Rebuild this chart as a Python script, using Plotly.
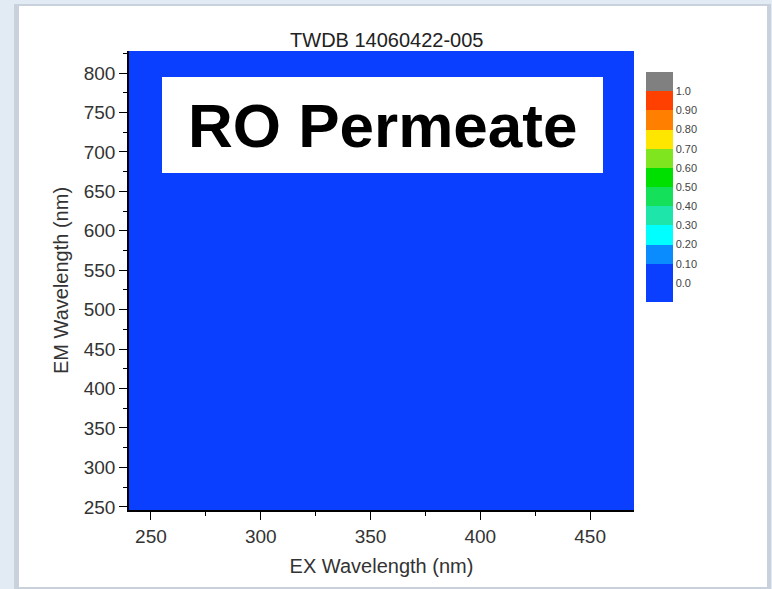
import plotly.graph_objects as go

# ---- data ----
ex_nm = [240, 280, 320, 360, 400, 440, 470]          # excitation wavelengths
em_nm = [246, 300, 400, 500, 600, 700, 800, 828]      # emission wavelengths
intensity = [
    [0.0, 0.0, 0.0, 0.0, 0.0, 0.0, 0.0],
    [0.0, 0.0, 0.0, 0.0, 0.0, 0.0, 0.0],
    [0.0, 0.0, 0.0, 0.0, 0.0, 0.0, 0.0],
    [0.0, 0.0, 0.0, 0.0, 0.0, 0.0, 0.0],
    [0.0, 0.0, 0.0, 0.0, 0.0, 0.0, 0.0],
    [0.0, 0.0, 0.0, 0.0, 0.0, 0.0, 0.0],
    [0.0, 0.0, 0.0, 0.0, 0.0, 0.0, 0.0],
    [0.0, 0.0, 0.0, 0.0, 0.0, 0.0, 0.0],
]
level_vals = [0.0, 0.1, 0.2, 0.3, 0.4, 0.5, 0.6, 0.7, 0.8, 0.9, 1.0]
level_text = ["0.0", "0.10", "0.20", "0.30", "0.40", "0.50", "0.60", "0.70", "0.80", "0.90", "1.0"]
x_ticks = [250, 300, 350, 400, 450]
y_ticks = [250, 300, 350, 400, 450, 500, 550, 600, 650, 700, 750, 800]

# ---- discrete colour levels (zmin -0.1 .. zmax 1.1) ----
band_colors = ["#0a3fff", "#0a3fff", "#0a8cff", "#00ffff", "#1ee6aa", "#14e05a",
               "#00e000", "#7fe51e", "#ffe600", "#ff8000", "#ff4000", "#808080"]
zmin, zmax = -0.1, 1.1
n = len(band_colors)
colorscale = []
for i, c in enumerate(band_colors):
    colorscale.append([i / n, c])
    colorscale.append([(i + 1) / n, c])

FONT = "Liberation Sans, Arial, sans-serif"

fig = go.Figure(go.Heatmap(
    x=ex_nm, y=em_nm, z=intensity,
    zmin=zmin, zmax=zmax, colorscale=colorscale,
    colorbar=dict(
        tickvals=level_vals, ticktext=level_text,
        ticks="", outlinewidth=0, thickness=27,
        lenmode="pixels", len=230,
        x=(646 - 129) / 505, xanchor="left", xpad=0,
        y=(510 - 72) / 459, yanchor="top", ypad=0,
        tickfont=dict(family=FONT, size=11, color="#444444"),
    ),
    showscale=True,
))

W, H = 772, 589
L, R, T, B = 129, W - 634, 51, H - 510

def px(x):
    return (x - L) / (W - L - R)

def py(y):
    return (H - B - y) / (H - T - B)

shapes = [
    dict(type="rect", xref="paper", yref="paper", layer="below",
         x0=px(14), x1=px(771), y0=py(589), y1=py(4),
         fillcolor="#c8d1dc", line=dict(width=0)),
    dict(type="rect", xref="paper", yref="paper", layer="below",
         x0=px(19), x1=px(767), y0=py(587), y1=py(6),
         fillcolor="white", line=dict(width=0)),
    dict(type="rect", xref="paper", yref="paper", layer="above",
         x0=px(162), x1=px(603), y0=py(173), y1=py(77),
         fillcolor="white", line=dict(width=0)),
]

fig.update_layout(
    width=W, height=H,
    margin=dict(l=L, r=R, t=T, b=B, autoexpand=False),
    paper_bgcolor="#e2eaf4", plot_bgcolor="white",
    shapes=shapes,
    title=dict(text="TWDB 14060422-005", x=px(382), xanchor="center",
               y=1 - 40 / H, yanchor="middle",
               font=dict(family=FONT, size=20, color="#222222")),
    annotations=[dict(text="<b>RO Permeate</b>", xref="paper", yref="paper",
                      x=px(382), y=py(126), showarrow=False,
                      xanchor="center", yanchor="middle",
                      font=dict(family=FONT, size=62, color="black"))],
    font=dict(family=FONT, color="#222222"),
)

fig.update_xaxes(
    range=[240, 470], tickvals=x_ticks, ticks="outside", ticklen=8, tickwidth=1,
    tickcolor="black", showline=True, linecolor="black", linewidth=1.5,
    showgrid=False, zeroline=False,
    minor=dict(dtick=25, tick0=225, ticks="outside", ticklen=4, tickcolor="black", showgrid=False),
    tickfont=dict(family=FONT, size=19, color="#333333"),
    title=dict(text="EX Wavelength (nm)", standoff=13,
               font=dict(family=FONT, size=20, color="#333333")),
)
fig.update_yaxes(
    range=[246, 828], tickvals=y_ticks, ticks="outside", ticklen=8, tickwidth=1,
    tickcolor="black", showline=True, linecolor="black", linewidth=1.5,
    showgrid=False, zeroline=False,
    minor=dict(dtick=25, tick0=225, ticks="outside", ticklen=4, tickcolor="black", showgrid=False),
    tickfont=dict(family=FONT, size=19, color="#333333"),
    title=dict(text="EM Wavelength (nm)", standoff=10,
               font=dict(family=FONT, size=20, color="#333333")),
)

fig.write_html("out.html")
